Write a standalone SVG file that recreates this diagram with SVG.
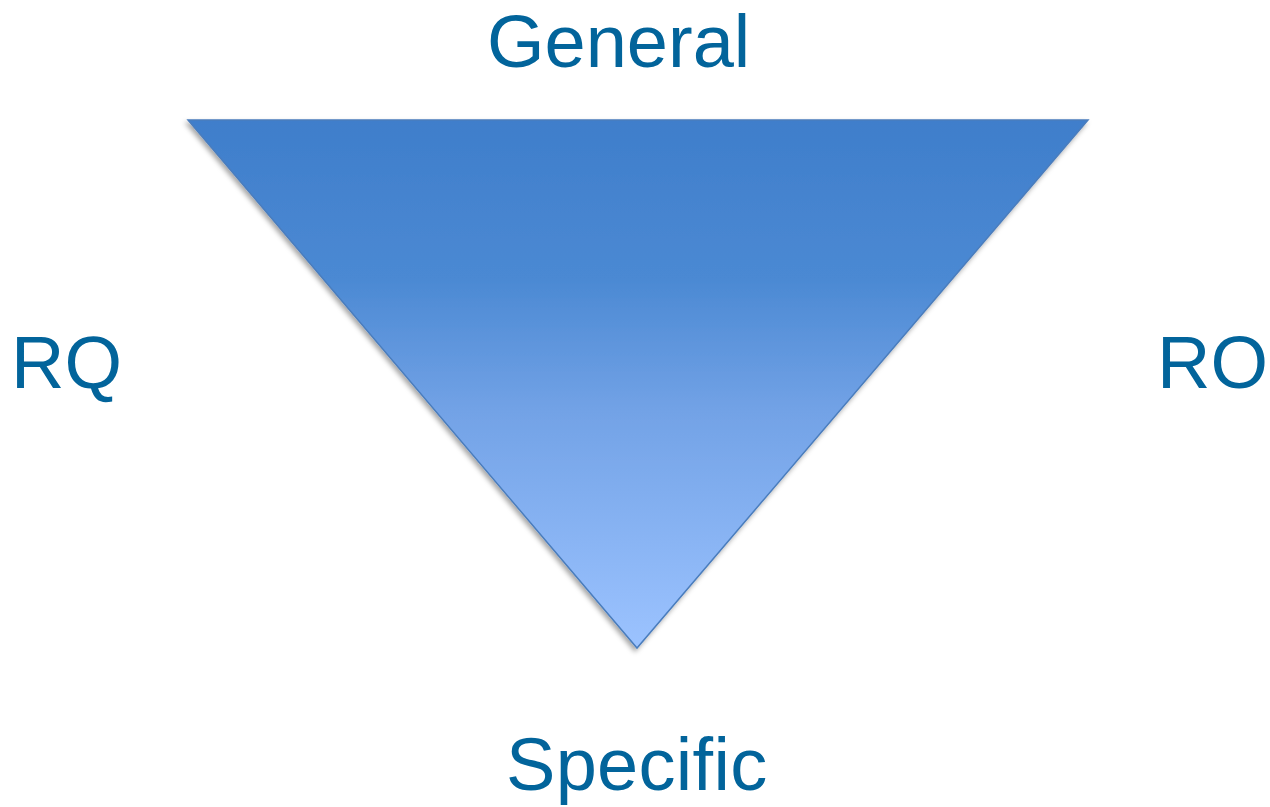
<svg xmlns="http://www.w3.org/2000/svg" width="1270" height="807" viewBox="0 0 1270 807">
<style>
.lbl{font-family:"Liberation Sans",Arial,sans-serif;font-size:74px;fill:#02649b}
</style>
<defs>
<linearGradient id="g" x1="0" y1="120" x2="0" y2="648" gradientUnits="userSpaceOnUse">
<stop offset="0" stop-color="#3f7ecb"/>
<stop offset="0.3" stop-color="#4b89d3"/>
<stop offset="0.55" stop-color="#72a2e6"/>
<stop offset="1" stop-color="#9cc3ff"/>
</linearGradient>
<filter id="sh" x="-10%" y="-10%" width="120%" height="120%">
<feDropShadow dx="-2" dy="3" stdDeviation="2.5" flood-color="#000" flood-opacity="0.35"/>
</filter>
</defs>
<g id="triangle">
<polygon points="188,120 1088,120 637,648" fill="url(#g)" stroke="#4a7dbd" stroke-width="1.5" filter="url(#sh)"/>
</g>
<g id="general"><text class="lbl" x="487" y="67">General</text></g>
<g id="rq"><text class="lbl" x="11" y="388">RQ</text></g>
<g id="ro"><text class="lbl" x="1157" y="388">RO</text></g>
<g id="specific"><text class="lbl" x="506" y="790" letter-spacing="0.3">Specific</text></g>
<g id="connectors"></g>
</svg>
